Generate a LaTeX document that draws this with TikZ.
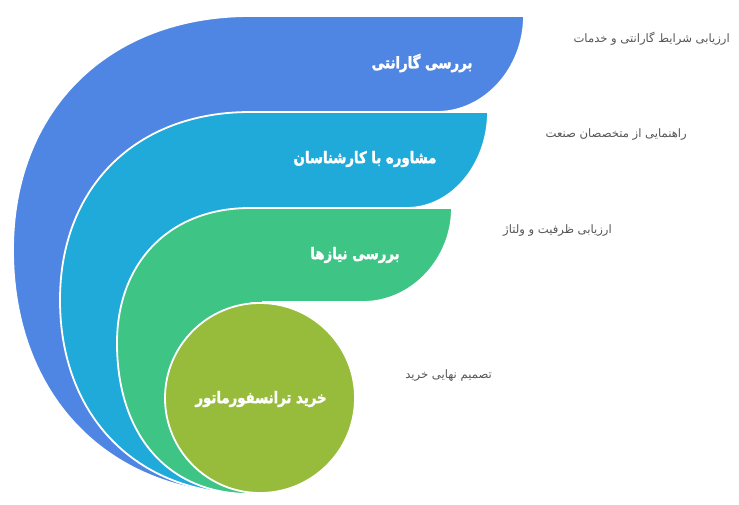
\documentclass[tikz,border=0pt]{standalone}
\usepackage{fontspec}
\TeXXeTstate=1
\newfontfamily\arabicfont[Script=Arabic]{DejaVu Sans}
\newfontfamily\arabictitle[Script=Arabic,FakeBold=2,FakeStretch=0.83]{DejaVu Sans Bold}
\definecolor{cblue}{HTML}{4F86E3}
\definecolor{ccyan}{HTML}{20AADA}
\definecolor{cgreen}{HTML}{3EC484}
\definecolor{colive}{HTML}{97BC3C}
\definecolor{cgray}{HTML}{555555}
\begin{document}
\begin{tikzpicture}[x=1pt,y=-1pt,
  edge/.style={draw=white,line width=1.8pt,line join=round},
  title/.style={text=white,font=\arabictitle\fontsize{16}{18}\selectfont,inner sep=0pt},
  note/.style={text=cgray,font=\arabicfont\fontsize{11.6}{13}\selectfont,inner sep=0pt}]
\useasboundingbox (0,0) rectangle (739,504);
% blue band
\fill[cblue] (250,494) .. controls (108,494) and (13,396) .. (13,250)
  .. controls (13,110) and (108,16) .. (250,16) -- (524,16)
  .. controls (524,68) and (485,112) .. (437,112) -- (250,112) -- cycle;
\draw[edge] (250,494) .. controls (108,494) and (13,396) .. (13,250)
  .. controls (13,110) and (108,16) .. (250,16) -- (524,16)
  .. controls (524,68) and (485,112) .. (437,112);
% cyan band
\fill[ccyan] (250,494) .. controls (136,494) and (60,416) .. (60,300)
  .. controls (60,187) and (136,112) .. (250,112) -- (488,112)
  .. controls (488,164) and (452,208) .. (407,208) -- (250,208) -- cycle;
\draw[edge] (250,494) .. controls (136,494) and (60,416) .. (60,300)
  .. controls (60,187) and (136,112) .. (250,112) -- (488,112)
  .. controls (488,164) and (452,208) .. (407,208);
% green band
\fill[cgreen] (250,494) .. controls (167,494) and (117,434) .. (117,343)
  .. controls (117,262) and (170,208) .. (250,208) -- (452,208)
  .. controls (452,259) and (412,302) .. (363,302) -- (250,302) -- cycle;
\draw[edge] (250,494) .. controls (167,494) and (117,434) .. (117,343)
  .. controls (117,262) and (170,208) .. (250,208) -- (452,208)
  .. controls (452,259) and (412,302) .. (363,302) -- (262,302);
% circle
\node[edge,fill=colive,circle,minimum size=190pt,inner sep=0pt] (c4) at (260,398) {};
% titles
\node[title] (t1) at (422,63) {\beginR بررسی گارانتی\endR};
\node[title] (t2) at (365,159) {\beginR مشاوره با کارشناسان\endR};
\node[title] (t3) at (355,255) {\beginR بررسی نیازها\endR};
\node[title] (t4) at (261,399) {\beginR خرید ترانسفورماتور\endR};
% notes
\node[note,anchor=east] (n1) at (730,39) {\beginR ارزیابی شرایط گارانتی و خدمات\endR};
\node[note,anchor=east] (n2) at (687,135) {\beginR راهنمایی از متخصصان صنعت\endR};
\node[note,anchor=east] (n3) at (612,231) {\beginR ارزیابی ظرفیت و ولتاژ\endR};
\node[note,anchor=east] (n4) at (492,376) {\beginR تصمیم نهایی خرید\endR};
\end{tikzpicture}
\end{document}
